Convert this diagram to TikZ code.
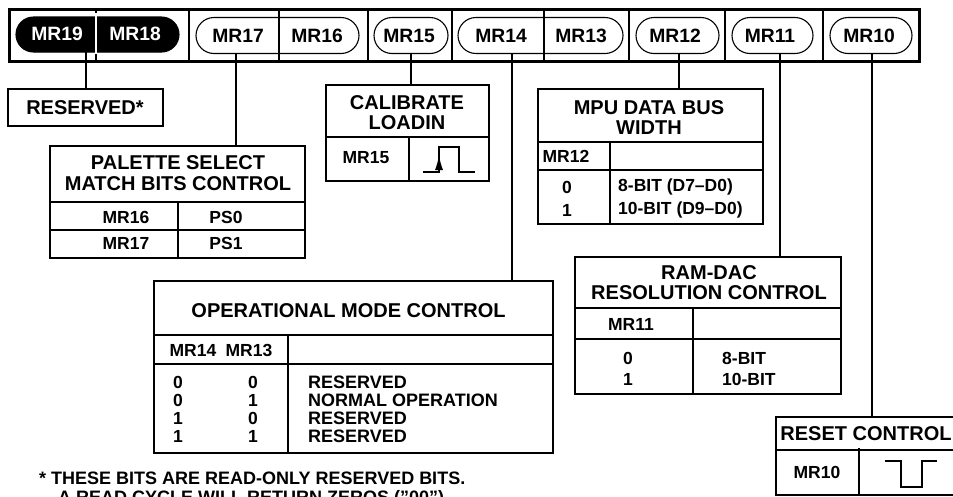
\documentclass[tikz,border=0pt]{standalone}
\usepackage{fontspec}
\setmainfont{Liberation Sans}
\usetikzlibrary{positioning,calc,arrows.meta,shapes.misc}
\tikzset{
    bitlabel/.style={font=\bfseries\fontsize{19.3}{20}\selectfont,inner sep=0pt,outer sep=0pt,minimum height=36pt},
    pillbox/.style={draw,rounded rectangle,line width=1.1pt,inner sep=0pt,outer sep=0pt,minimum height=#1},
    frame/.style={draw,line width=1.7pt,inner sep=0pt,outer sep=0pt},
    titletext/.style={font=\bfseries\fontsize{20}{20.5}\selectfont,align=center,inner sep=0pt},
    celltext/.style={font=\bfseries\fontsize{17.5}{#1}\selectfont,inner sep=0pt},
    celltext/.default=18pt,
    notetext/.style={font=\bfseries\fontsize{18}{18}\selectfont,inner sep=0pt},
    rule/.style={line width=1.5pt},
    barline/.style={line width=2.6pt}
}
\begin{document}
\begin{tikzpicture}[x=1pt,y=-1pt]
    \useasboundingbox (0,0) rectangle (953,496);
    \clip (0,0) rectangle (953,496);
    % register bar
    \node[draw,line width=3pt,inner sep=0pt,outer sep=0pt,minimum width=910pt,minimum height=52pt] (bar) at (464,35) {};
    \foreach \x in {96,189,279,368,452,544,629,725,823}
        \draw[barline] (bar.north -| \x,0) -- (bar.south -| \x,0);
    \node[pillbox=35pt,fill=black,minimum width=163pt] (pillhi) at (97.5,34.5) {};
    \draw[white,line width=1.6pt] (96,13) -- (96,54);
    \node[pillbox=36pt,minimum width=163pt] (pilla) at (277.5,35.5) {};
    \node[pillbox=36pt,minimum width=74pt] (pillb) at (411,35.5) {};
    \node[pillbox=36pt,minimum width=165pt] (pillc) at (540.5,35.5) {};
    \node[pillbox=36pt,minimum width=83pt] (pilld) at (677.5,35.5) {};
    \node[pillbox=36pt,minimum width=81pt] (pille) at (772.5,35.5) {};
    \node[pillbox=36pt,minimum width=82pt] (pillf) at (871,35.5) {};
    % bit names
    \node[bitlabel,white] (mr19) at (57,34) {MR19};
    \node[bitlabel,white] (mr18) at (135,34) {MR18};
    \node[bitlabel] (mr17) at (238,36) {MR17};
    \node[bitlabel] (mr16) at (317,36) {MR16};
    \node[bitlabel] (mr15) at (409,36) {MR15};
    \node[bitlabel] (mr14) at (501,36) {MR14};
    \node[bitlabel] (mr13) at (581,36) {MR13};
    \node[bitlabel] (mr12) at (675,36) {MR12};
    \node[bitlabel] (mr11) at (770,36) {MR11};
    \node[bitlabel] (mr10) at (869,36) {MR10};
    % tables
    \node[frame,minimum width=155pt,minimum height=37pt] (reserved) at (85.5,107.5) {};
    \node[titletext] (reservedtxt) at (85,108) {RESERVED*};
    \node[frame,minimum width=255pt,minimum height=112pt] (palette) at (177.5,202) {};
    \node[frame,minimum width=163pt,minimum height=96pt] (calib) at (407.5,133) {};
    \node[frame,minimum width=225pt,minimum height=135pt] (mpu) at (650.5,156.5) {};
    \node[frame,minimum width=266pt,minimum height=137pt] (ramdac) at (708,325.5) {};
    \node[frame,minimum width=399pt,minimum height=172pt] (opmode) at (353.5,367) {};
    \node[frame,minimum width=200pt,minimum height=78pt] (resetbox) at (876,456) {};
    % connectors
    \coordinate (tapa) at (86,52);
    \coordinate (tapb) at (236,53.5);
    \coordinate (tapc) at (411,53.5);
    \coordinate (tapd) at (512,53.5);
    \coordinate (tape) at (679,53.5);
    \coordinate (tapf) at (780,53.5);
    \coordinate (tapg) at (872,53.5);
    \draw[rule] (tapa) -- (reserved.north -| tapa);
    \draw[rule] (tapb) -- (palette.north -| tapb);
    \draw[rule] (tapc) -- (calib.north -| tapc);
    \draw[rule] (tapd) -- (opmode.north -| tapd);
    \draw[rule] (tape) -- (mpu.north -| tape);
    \draw[rule] (tapf) -- (ramdac.north -| tapf);
    \draw[rule] (tapg) -- (resetbox.north -| tapg);
    % palette select
    \node[titletext] (palettetitle) at (178,173) {PALETTE SELECT\\MATCH BITS CONTROL};
    \draw[rule] (palette.west |- 0,202) -- (palette.east |- 0,202);
    \draw[rule] (palette.west |- 0,230) -- (palette.east |- 0,230);
    \draw[rule] (178,202) -- (178,258);
    \node[celltext] (palettea) at (126,217) {MR16};
    \node[celltext] (paletteb) at (226,217) {PS0};
    \node[celltext] (palettec) at (126,243) {MR17};
    \node[celltext] (paletted) at (226,243) {PS1};
    % calibrate
    \node[titletext] (calibtitle) at (407,112.5) {CALIBRATE\\LOADIN};
    \draw[rule] (calib.west |- 0,137) -- (calib.east |- 0,137);
    \draw[rule] (409,137) -- (409,181);
    \node[celltext] (calibbit) at (366,158) {MR15};
    \draw[line width=1.4pt] (423,172) -- (439,172) -- (439,147) -- (459,147) -- (459,172) -- (475,172);
    \draw[line width=1.4pt,-{Latex[length=15pt,width=8pt]}] (439,172) -- (439,155);
    % data bus
    \node[titletext] (mputitle) at (649,117.5) {MPU DATA BUS\\WIDTH};
    \draw[rule] (mpu.west |- 0,142) -- (mpu.east |- 0,142);
    \draw[rule] (mpu.west |- 0,170) -- (mpu.east |- 0,170);
    \draw[rule] (610,142) -- (610,224);
    \node[celltext] (mpubit) at (566,156) {MR12};
    \node[celltext=23pt,align=center] (mpuvals) at (567,198.5) {0\\1};
    \node[celltext=23pt,align=left,anchor=west] (mpuwidth) at (618,198.5) {8-BIT (D7–D0)\\10-BIT (D9–D0)};
    % ram-dac
    \node[titletext] (ramdactitle) at (709,282.5) {RAM-DAC\\RESOLUTION CONTROL};
    \draw[rule] (ramdac.west |- 0,308) -- (ramdac.east |- 0,308);
    \draw[rule] (ramdac.west |- 0,339) -- (ramdac.east |- 0,339);
    \draw[rule] (693,308) -- (693,394);
    \node[celltext] (ramdacbit) at (631,324) {MR11};
    \node[celltext=21pt,align=center] (ramdacvals) at (628,368.5) {0\\1};
    \node[celltext=21pt,align=left,anchor=west] (ramdacwidth) at (722,368.5) {8-BIT\\10-BIT};
    % operational mode
    \node[titletext] (optitle) at (348.5,311) {OPERATIONAL MODE CONTROL};
    \draw[rule] (opmode.west |- 0,335) -- (opmode.east |- 0,335);
    \draw[rule] (opmode.west |- 0,364) -- (opmode.east |- 0,364);
    \draw[rule] (288,335) -- (288,453);
    \node[celltext] (opbita) at (193,350) {MR14};
    \node[celltext] (opbitb) at (249,350) {MR13};
    \node[celltext=18pt,align=center] (opvalsa) at (178,409) {0\\0\\1\\1};
    \node[celltext=18pt,align=center] (opvalsb) at (253,409) {0\\1\\0\\1};
    \node[notetext,align=left,anchor=west] (opnames) at (308,409) {RESERVED\\NORMAL OPERATION\\RESERVED\\RESERVED};
    % reset
    \node[titletext] (resettitle) at (866,434) {RESET CONTROL};
    \draw[rule] (resetbox.west |- 0,450) -- (resetbox.east |- 0,450);
    \draw[rule] (859,448) -- (859,495);
    \node[celltext] (resetbit) at (817,472) {MR10};
    \draw[line width=1.4pt] (885,461) -- (901,461) -- (901,487) -- (922,487) -- (922,461) -- (937,461);
    % footnote
    \node[notetext,anchor=west] (notea) at (39,478) {* THESE BITS ARE READ-ONLY RESERVED BITS.};
    \node[notetext,anchor=west] (noteb) at (58,499) {A READ CYCLE WILL RETURN ZEROS (\symbol{34}00\symbol{34}).};
\end{tikzpicture}
\end{document}
